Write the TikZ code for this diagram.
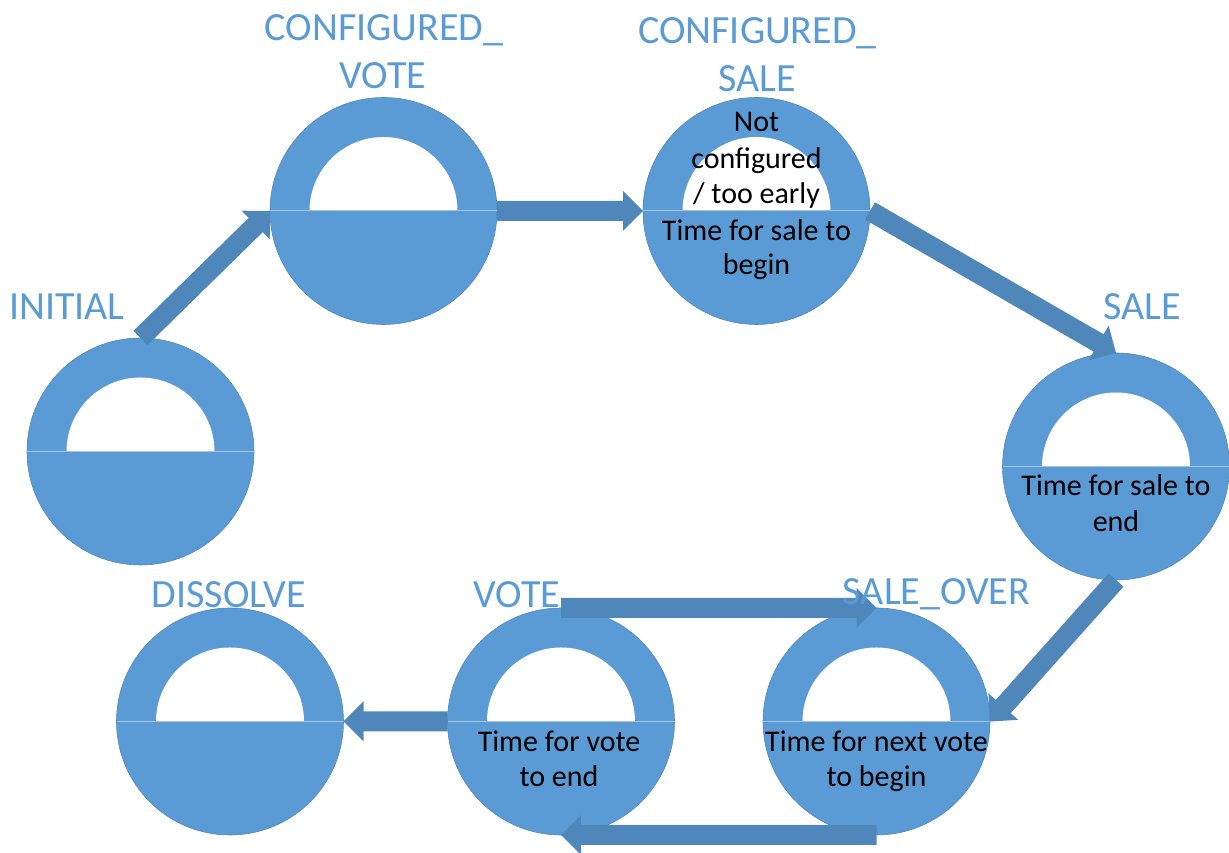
\documentclass[tikz,border=0pt]{standalone}
\usepackage{fontspec}
\setmainfont{Carlito}
\usetikzlibrary{calc}
\definecolor{circ}{HTML}{5B9BD5}
\definecolor{arr}{HTML}{4F87BA}
\definecolor{divl}{HTML}{A9C2DA}
\tikzset{
  statecirc/.style={circle, minimum size=227pt, inner sep=0pt, outer sep=0pt,
    fill=circ, draw=circ!88!black, line width=0.6pt},
  lbl/.style={font=\fontsize{40}{48.8}\selectfont, text=circ, anchor=base, inner sep=0pt, yshift=-2pt},
  innertxt/.style={font=\fontsize{30}{36}\selectfont, text=black, anchor=base, inner sep=0pt, yshift=-2pt},
  blockarr/.style={fill=arr},
}
\newcommand\halfhole[1]{%
  \fill[white] ($(#1.center)+(-74,0)$) arc[start angle=180, end angle=0, radius=74] -- cycle;
  \draw[divl, line width=1pt] (#1.west) -- (#1.east);
}
\newcommand\blockarrow[2]{%
  \fill[blockarr] let \p1=(#1), \p2=(#2),
    \n1={atan2(\y2-\y1,\x2-\x1)}, \n2={veclen(\x2-\x1,\y2-\y1)-20} in
    ($(\p1)+({\n1+90}:10)$) -- ($(\p1)+(\n1:\n2)+({\n1+90}:10)$)
    -- ($(\p1)+(\n1:\n2)+({\n1+90}:20)$) -- (\p2)
    -- ($(\p1)+(\n1:\n2)+({\n1-90}:20)$) -- ($(\p1)+(\n1:\n2)+({\n1-90}:10)$)
    -- ($(\p1)+({\n1-90}:10)$) -- cycle;
}
\begin{document}
\begin{tikzpicture}[x=1pt,y=1pt]
\useasboundingbox (0,0) rectangle (1229,853);
% states
\node[statecirc] (init) at (140.5,401.5) {};
\node[statecirc] (cv) at (383.5,642) {};
\node[statecirc] (cs) at (756.5,642) {};
\node[statecirc] (sale) at (1116,386.5) {};
\node[statecirc] (vote) at (561,131.5) {};
\node[statecirc] (so) at (876.5,131.5) {};
\node[statecirc] (dis) at (230,131.5) {};
\halfhole{init}
\halfhole{cv}
\halfhole{cs}
\halfhole{sale}
\halfhole{vote}
\halfhole{so}
\halfhole{dis}
% arrows
\blockarrow{init.north}{cv.west}
\blockarrow{cv.east}{cs.west}
\blockarrow{cs.east}{sale.north}
\blockarrow{sale.south}{so.east}
\blockarrow{vote.north}{so.north}
\blockarrow{so.south}{vote.south}
\blockarrow{vote.west}{dis.east}
% inner texts
\node[innertxt] (cs1) at (756.5,723) {Not};
\node[innertxt] (cs2) at (756.5,686.3) {configured};
\node[innertxt] (cs3) at (756.5,651) {/ too early};
\node[innertxt] (cs4) at (756.5,614.7) {Time for sale to};
\node[innertxt] (cs5) at (756.5,580) {begin};
\node[innertxt] (sa1) at (1116,359.7) {Time for sale to};
\node[innertxt] (sa2) at (1116,323) {end};
\node[innertxt] (vo1) at (559,103) {Time for vote};
\node[innertxt] (vo2) at (559,68) {to end};
\node[innertxt] (so1) at (876.5,103) {Time for next vote};
\node[innertxt] (so2) at (876.5,68) {to begin};
% labels
\node[lbl] (linit) at (67,535) {INITIAL};
\node[lbl] (lcv1) at (384,814.7) {CONFIGURED\_};
\node[lbl] (lcv2) at (383,766.3) {VOTE};
\node[lbl] (lcs1) at (757.5,811.3) {CONFIGURED\_};
\node[lbl] (lcs2) at (757,763) {SALE};
\node[lbl] (lsale) at (1142.5,535) {SALE};
\node[lbl] (lso) at (936.5,250.3) {SALE\_OVER};
\node[lbl] (lvote) at (517,247) {VOTE};
\node[lbl] (ldis) at (229,247) {DISSOLVE};
\end{tikzpicture}
\end{document}
